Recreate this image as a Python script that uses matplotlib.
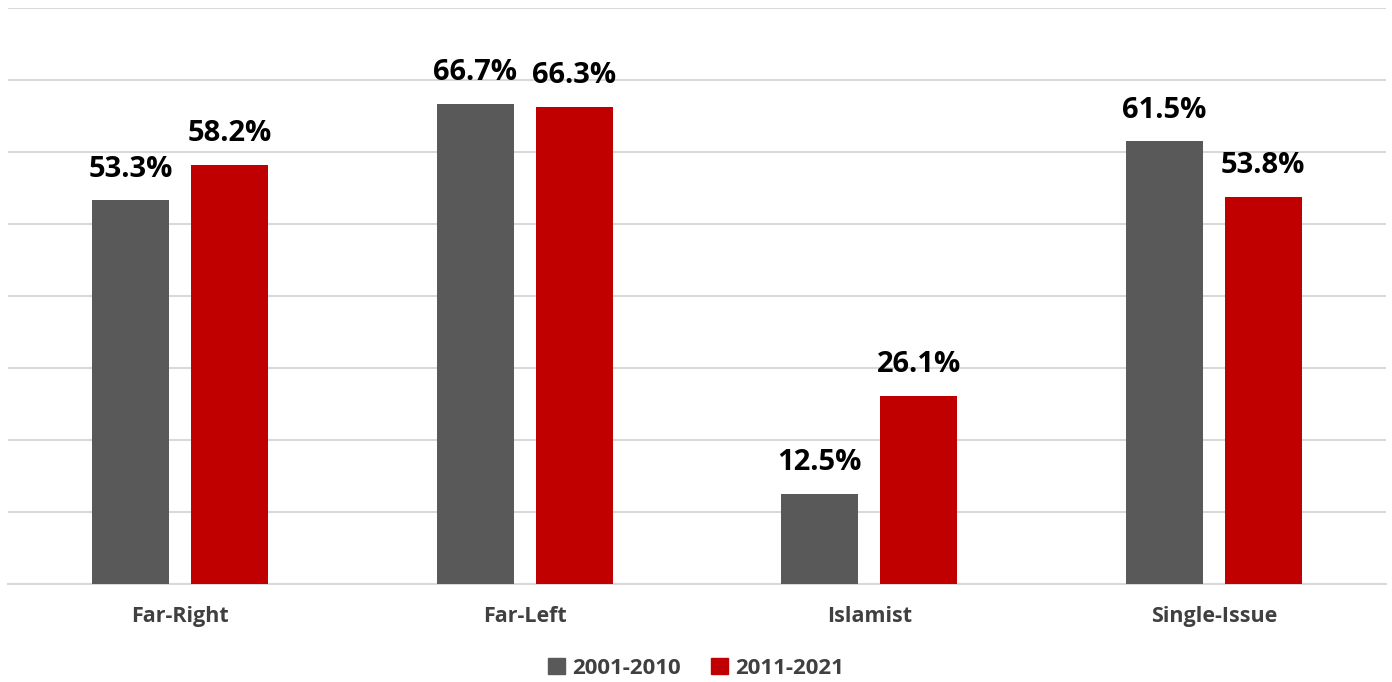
import numpy as np
import matplotlib.pyplot as plt
from matplotlib.patches import Patch

# Data
categories = ["Far-Right", "Far-Left", "Islamist", "Single-Issue"]
series_names = ["2001-2010", "2011-2021"]
vals_2001_2010 = [53.3, 66.7, 12.5, 61.5]
vals_2011_2021 = [58.2, 66.3, 26.1, 53.8]

gray = "#595959"
red = "#C00000"
text_gray = "#404040"

plt.rcParams['font.family'] = ['Open Sans', 'DejaVu Sans']

fig = plt.figure(figsize=(13.92, 6.82), dpi=100)
ax = fig.add_axes([8 / 1392, 98 / 682, 1378 / 1392, 576 / 682])

x = np.arange(len(categories))
w = 0.2235
off = 0.1437

b1 = ax.bar(x - off, vals_2001_2010, w, color=gray, zorder=3)
b2 = ax.bar(x + off, vals_2011_2021, w, color=red, zorder=3)

for bars, vals in [(b1, vals_2001_2010), (b2, vals_2011_2021)]:
    for bar, v in zip(bars, vals):
        ax.annotate(f"{v:.1f}%", (bar.get_x() + bar.get_width() / 2, v),
                    xytext=(0, 12), textcoords="offset points",
                    ha="center", va="bottom", fontsize=21, fontweight="bold",
                    color="black")

# Formatting
ax.set_xlim(-0.5, 3.5)
ax.set_ylim(0, 80)
ax.set_yticks(np.arange(0, 81, 10))
ax.yaxis.grid(True, color="#D9D9D9", linewidth=1.5, zorder=0)
ax.tick_params(axis="y", left=False, labelleft=False)
ax.tick_params(axis="x", bottom=False, pad=12)
ax.set_xticks(x)
ax.set_xticklabels(categories, fontsize=15.5, fontweight="bold", color=text_gray)
for s in ["top", "right", "left"]:
    ax.spines[s].set_visible(False)
ax.spines["bottom"].set_color("#D9D9D9")
ax.spines["bottom"].set_linewidth(1.5)

handles = [Patch(color=gray, label=series_names[0]),
           Patch(color=red, label=series_names[1])]
leg = fig.legend(handles=handles, loc="center", bbox_to_anchor=(0.5, 14 / 682),
                 ncol=2, frameon=False, handlelength=0.75, handleheight=0.75,
                 handletextpad=0.3, columnspacing=1.4,
                 prop={"size": 16, "weight": "bold"})
for t in leg.get_texts():
    t.set_color(text_gray)

fig.savefig("out.png", dpi=100)
